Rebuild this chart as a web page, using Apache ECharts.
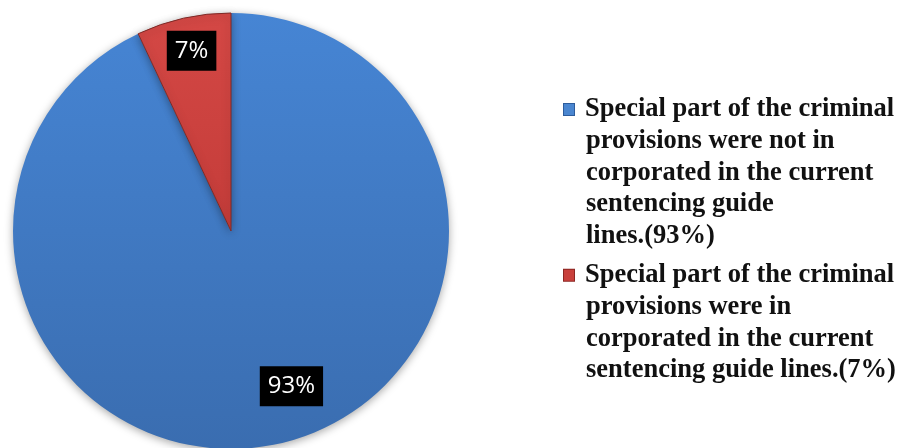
<!DOCTYPE html>
<html>
<head>
<meta charset="utf-8">
<script src="https://cdn.jsdelivr.net/npm/echarts@6/dist/echarts.min.js"></script>
<style>
html,body{margin:0;padding:0;background:#fff;}
#main{width:900px;height:448px;}
</style>
</head>
<body>
<div id="main"></div>
<script>
const categories = [
  "Special part of the criminal provisions were not in corporated in the current sentencing guide lines.(93%)",
  "Special part of the criminal provisions were in corporated in the current sentencing guide lines.(7%)"
];
const values = [93, 7];
const legendLines = [
  ["Special part of the criminal", "provisions were not in", "corporated in the current", "sentencing guide", "lines.(93%)"],
  ["Special part of the criminal", "provisions were in", "corporated in the current", "sentencing guide lines.(7%)"]
];

const sliceColors = [
  new echarts.graphic.LinearGradient(0, 0, 0, 1, [
    {offset: 0, color: '#4685d4'}, {offset: 1, color: '#3a6db0'}
  ]),
  new echarts.graphic.LinearGradient(0, 0, 0, 1, [
    {offset: 0, color: '#d44845'}, {offset: 1, color: '#c43c39'}
  ])
];
const squareColors = ['#4a86d0', '#c9403c'];
const squareBorders = ['#2d5c9c', '#8c2622'];
const labelShift = [[36, 46], [-15, -71]];

const chart = echarts.init(document.getElementById('main'), null, {renderer: 'canvas'});

const rich = {
  t: {fontFamily: 'Liberation Serif', fontWeight: 'bold', fontSize: 26.5, lineHeight: 31.7, color: '#111'},
  pad: {width: 22, height: 12}
};
categories.forEach((c, i) => {
  rich['sq' + i] = {width: 10, height: 11, backgroundColor: squareColors[i], borderColor: squareBorders[i], borderWidth: 1};
  rich['gap' + i] = {width: 11, height: 12};
});

chart.setOption({
  backgroundColor: '#fff',
  animation: false,
  legend: {
    orient: 'vertical',
    left: 553,
    top: 91,
    itemGap: 12,
    itemWidth: 0,
    itemHeight: 0,
    selectedMode: false,
    data: categories,
    formatter: function (name) {
      const i = categories.indexOf(name);
      return legendLines[i].map((ln, k) =>
        (k === 0 ? '{sq' + i + '|}{gap' + i + '|}' : '{pad|}') + '{t|' + ln + '}'
      ).join('\n');
    },
    textStyle: {rich: rich}
  },
  series: [{
    type: 'pie',
    center: [231, 231],
    radius: 218,
    startAngle: 90,
    clockwise: true,
    data: categories.map((c, i) => ({
      name: c,
      value: values[i],
      itemStyle: {
        color: sliceColors[i],
        borderColor: i === 1 ? '#7e2a27' : '#3a6db0',
        borderWidth: i === 1 ? 1 : 0
      }
    })),
    itemStyle: {
      shadowBlur: 8,
      shadowColor: 'rgba(0,0,0,0.35)',
      shadowOffsetY: 2
    },
    label: {
      show: true,
      position: 'inside',
      formatter: p => p.value + '%',
      color: '#fff',
      backgroundColor: '#000',
      fontFamily: 'Open Sans',
      fontSize: 24,
      lineHeight: 26,
      padding: [8, 8, 6, 8]
    },
    labelLayout: function (params) {
      const s = labelShift[params.dataIndex];
      return {dx: s[0], dy: s[1]};
    },
    emphasis: {disabled: true}
  }]
});
</script>
</body>
</html>
